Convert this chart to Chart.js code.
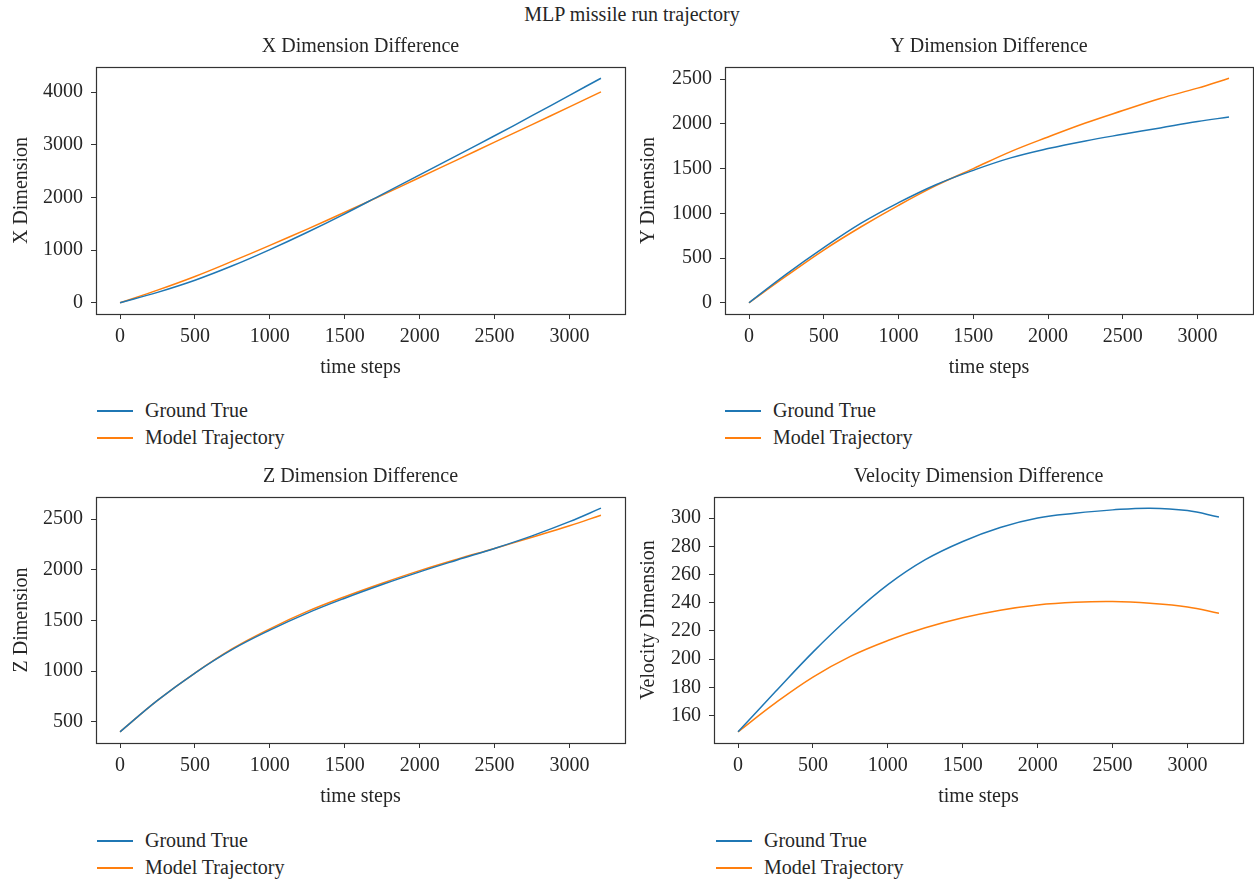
<!DOCTYPE html>
<html>
<head>
<meta charset="utf-8">
<title>MLP missile run trajectory</title>
<script src="https://cdn.jsdelivr.net/npm/chart.js@4.4.0/dist/chart.umd.min.js"></script>
<style>
    body { margin: 0; background: #fff; width: 1254px; height: 881px; position: relative; overflow: hidden;
           font-family: "Liberation Serif", serif; color: #262626; }
    canvas { position: absolute; }
    #suptitle { position: absolute; top: 3px; left: 0; width: 1264px; text-align: center; font-size: 20px; }
    .legend { position: absolute; font-size: 20px; line-height: 27px; }
    .legend .row { display: flex; align-items: center; height: 27px; }
    .legend .swatch { width: 36px; height: 2px; margin-right: 12px; }
</style>
</head>
<body>
<div id="suptitle">MLP missile run trajectory</div>
<canvas id="chartX"></canvas>
<canvas id="chartY"></canvas>
<canvas id="chartZ"></canvas>
<canvas id="chartV"></canvas>
<div class="legend" id="legendX"></div>
<div class="legend" id="legendY"></div>
<div class="legend" id="legendZ"></div>
<div class="legend" id="legendV"></div>
<script>
// values
var timeSteps = [0, 250, 500, 750, 1000, 1250, 1500, 1750, 2000, 2250, 2500, 2750, 3000, 3210];

var xTrue  = [0, 198, 428, 702, 1010, 1340, 1690, 2060, 2430, 2800, 3172, 3553, 3940, 4265];
var xModel = [0, 240, 500, 790, 1090, 1400, 1720, 2045, 2380, 2715, 3050, 3385, 3720, 4006];

var yTrue  = [0, 320, 616, 890, 1119, 1320, 1481, 1620, 1724, 1810, 1884, 1955, 2026, 2078];
var yModel = [0, 300, 590, 850, 1090, 1310, 1500, 1690, 1854, 2010, 2150, 2285, 2400, 2511];

var zTrue  = [402, 712, 982, 1215, 1405, 1573, 1720, 1855, 1980, 2097, 2211, 2335, 2475, 2608];
var zModel = [402, 712, 982, 1222, 1418, 1590, 1735, 1868, 1992, 2105, 2211, 2322, 2435, 2539];

var vTrue  = [148.5, 177, 205, 230.4, 252.8, 270.5, 283.4, 293.3, 300, 303.4, 305.8, 307, 305.3, 300.7];
var vModel = [148.5, 169, 187.3, 202, 213.2, 222.2, 229.3, 234.7, 238.4, 240.3, 240.8, 239.6, 237, 232.6];

var timeTicks = [0, 500, 1000, 1500, 2000, 2500, 3000];
var xTicks = [0, 1000, 2000, 3000, 4000];
var yTicks = [0, 500, 1000, 1500, 2000, 2500];
var zTicks = [500, 1000, 1500, 2000, 2500];
var vTicks = [160, 180, 200, 220, 240, 260, 280, 300];

var seriesNames = ["Ground True", "Model Trajectory"];
var seriesColors = ["#1f77b4", "#ff7f0e"];

var fontFamily = "'Liberation Serif', serif";
var textColor = "#262626";

// draws the four spines round the plot area
var framePlugin = {
    id: "frame",
    afterDatasetsDraw: function(chart) {
        var a = chart.chartArea;
        var ctx = chart.ctx;
        ctx.save();
        ctx.strokeStyle = "#333";
        ctx.lineWidth = 1.2;
        ctx.strokeRect(Math.round(a.left) + 0.5, Math.round(a.top) + 0.5,
            Math.round(a.right - a.left), Math.round(a.bottom - a.top));
        ctx.restore();
    }
};

function margins(values) {
    var lo = Math.min.apply(null, values);
    var hi = Math.max.apply(null, values);
    var pad = (hi - lo) * 0.05;
    return [lo - pad, hi + pad];
}

function points(values) {
    var out = [];
    for (var i = 0; i < timeSteps.length; i++) {
        out.push({x: timeSteps[i], y: values[i]});
    }
    return out;
}

function fixTicks(list) {
    return function(scale) {
        scale.ticks = list.map(function(v) { return {value: v}; });
    };
}

function plainLabel(v) {
    return String(v);
}

function makePanel(id, legendId, box, title, yTitle, trueData, modelData, ticks) {
    var canvas = document.getElementById(id);
    canvas.width = box.w;
    canvas.height = box.h;
    canvas.style.left = box.left + "px";
    canvas.style.top = box.top + "px";

    var xr = margins(timeSteps);
    var yr = margins(trueData.concat(modelData));

    var chart = new Chart(canvas, {
        type: "line",
        data: {
            datasets: [{
                label: seriesNames[0],
                data: points(trueData),
                borderColor: seriesColors[0],
                borderWidth: 1.5,
                pointRadius: 0,
                tension: 0.4
            }, {
                label: seriesNames[1],
                data: points(modelData),
                borderColor: seriesColors[1],
                borderWidth: 1.5,
                pointRadius: 0,
                tension: 0.4
            }]
        },
        options: {
            responsive: false,
            animation: false,
            layout: { padding: { left: 0, right: box.padRight, top: 0, bottom: 0 } },
            plugins: {
                legend: { display: false },
                tooltip: { enabled: false },
                title: {
                    display: true,
                    text: title,
                    fullSize: false,
                    color: textColor,
                    font: { family: fontFamily, size: 20, weight: "normal", lineHeight: 1.2 },
                    padding: { top: 0, bottom: 8 }
                }
            },
            scales: {
                x: {
                    type: "linear",
                    min: xr[0],
                    max: xr[1],
                    afterBuildTicks: fixTicks(timeTicks),
                    afterFit: function(s) { s.height = 70; },
                    border: { display: false },
                    grid: { drawOnChartArea: false, drawTicks: true, tickLength: 5, color: "#333", lineWidth: 1 },
                    ticks: { color: textColor, padding: 6, maxRotation: 0, callback: plainLabel,
                             font: { family: fontFamily, size: 20 } },
                    title: {
                        display: true,
                        text: "time steps",
                        color: textColor,
                        font: { family: fontFamily, size: 20, lineHeight: 1.2 },
                        padding: { top: 0, bottom: 4 }
                    }
                },
                y: {
                    type: "linear",
                    min: yr[0],
                    max: yr[1],
                    afterBuildTicks: fixTicks(ticks),
                    afterFit: function(s) { s.width = box.yWidth; },
                    border: { display: false },
                    grid: { drawOnChartArea: false, drawTicks: true, tickLength: 5, color: "#333", lineWidth: 1 },
                    ticks: { color: textColor, padding: 8, callback: plainLabel,
                             font: { family: fontFamily, size: 20 } },
                    title: {
                        display: true,
                        text: yTitle,
                        color: textColor,
                        font: { family: fontFamily, size: 20, lineHeight: 1.2 },
                        padding: { top: box.yTitlePad, bottom: 0 }
                    }
                }
            }
        },
        plugins: [framePlugin]
    });

    // legend under each panel, one entry per row
    var legend = document.getElementById(legendId);
    legend.style.left = box.legendLeft + "px";
    legend.style.top = box.legendTop + "px";
    chart.data.datasets.forEach(function(ds) {
        var row = document.createElement("div");
        row.className = "row";
        var sw = document.createElement("span");
        sw.className = "swatch";
        sw.style.background = ds.borderColor;
        var txt = document.createElement("span");
        txt.textContent = ds.label;
        row.appendChild(sw);
        row.appendChild(txt);
        legend.appendChild(row);
    });
    return chart;
}

makePanel("chartX", "legendX",
    {left: 0, top: 35, w: 640, h: 349, padRight: 15, yWidth: 96, yTitlePad: 10, legendLeft: 97, legendTop: 397},
    "X Dimension Difference", "X Dimension", xTrue, xModel, xTicks);

makePanel("chartY", "legendY",
    {left: 630, top: 35, w: 624, h: 349, padRight: 1, yWidth: 95, yTitlePad: 7, legendLeft: 725, legendTop: 397},
    "Y Dimension Difference", "Y Dimension", yTrue, yModel, yTicks);

makePanel("chartZ", "legendZ",
    {left: 0, top: 465, w: 640, h: 348, padRight: 15, yWidth: 96, yTitlePad: 10, legendLeft: 97, legendTop: 827},
    "Z Dimension Difference", "Z Dimension", zTrue, zModel, zTicks);

makePanel("chartV", "legendV",
    {left: 630, top: 465, w: 624, h: 348, padRight: 11, yWidth: 84, yTitlePad: 7, legendLeft: 716, legendTop: 827},
    "Velocity Dimension Difference", "Velocity Dimension", vTrue, vModel, vTicks);
</script>
</body>
</html>
